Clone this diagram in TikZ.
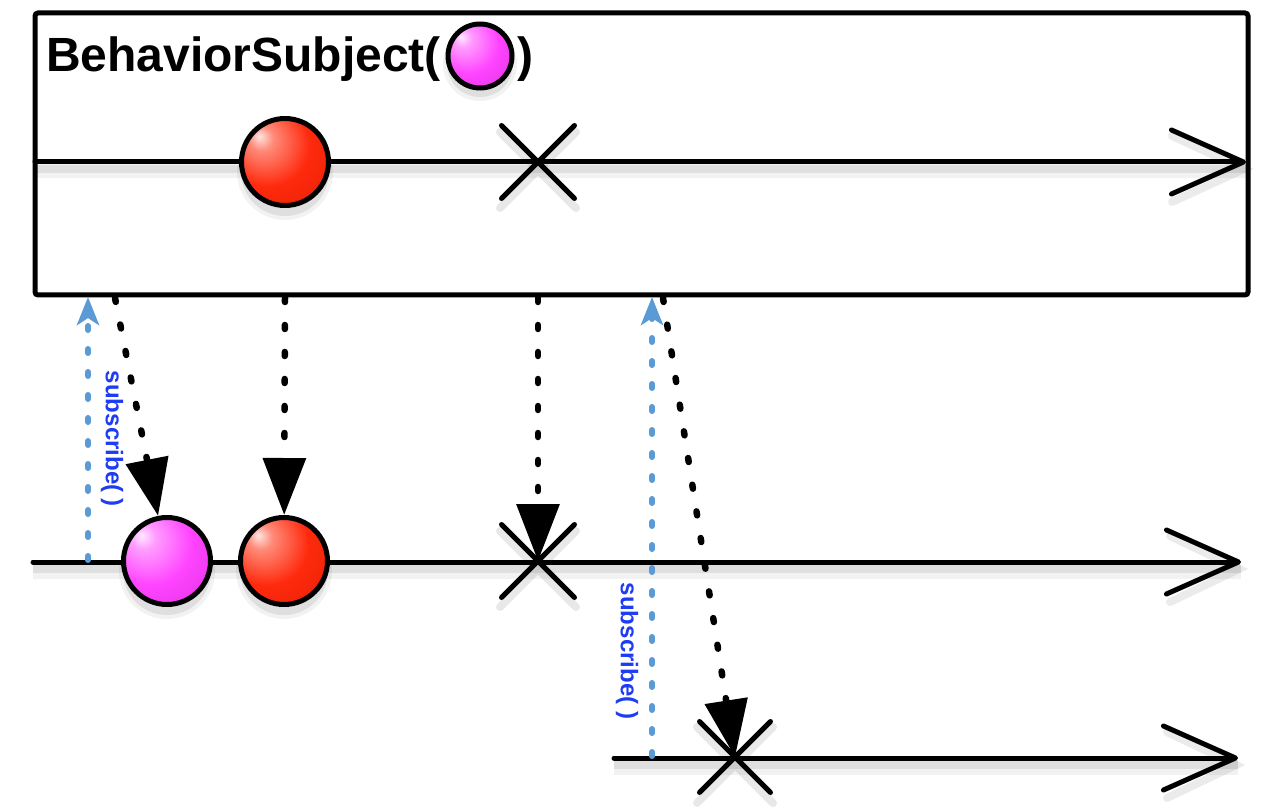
\documentclass[tikz,border=0pt]{standalone}
\usepackage{fontspec}
\setmainfont{Liberation Sans}
\usetikzlibrary{arrows.meta,shapes.misc}
\definecolor{rbA}{HTML}{FFE6E2}
\definecolor{rbB}{HTML}{FF8A78}
\definecolor{rbC}{HTML}{FF2A0E}
\definecolor{rbD}{HTML}{E01E00}
\definecolor{rbE}{HTML}{7A0E00}
\definecolor{pkA}{HTML}{FFEAFF}
\definecolor{pkB}{HTML}{FF9CFF}
\definecolor{pkC}{HTML}{FF44FF}
\definecolor{pkD}{HTML}{DC2EDC}
\definecolor{pkE}{HTML}{7E187E}
\definecolor{subblue}{HTML}{5B9BD5}
\definecolor{labelblue}{HTML}{1E3CF2}
\pgfdeclareradialshading{redball}{\pgfpoint{-15bp}{15bp}}{color(0bp)=(rbA); color(7bp)=(rbB); color(24bp)=(rbC); color(48bp)=(rbD); color(72bp)=(rbE)}
\pgfdeclareradialshading{pinkball}{\pgfpoint{-15bp}{15bp}}{color(0bp)=(pkA); color(7bp)=(pkB); color(24bp)=(pkC); color(48bp)=(pkD); color(72bp)=(pkE)}
\begin{document}
\begin{tikzpicture}[x=1pt,y=-1pt,
  tline/.style={line width=5pt,line cap=round,-{Straight Barb[length=72pt,width=64pt,round]}},
  ball/.style={circle,draw,line width=5pt,minimum size=87pt,inner sep=0pt},
  xmark/.style={cross out,draw,line width=5pt,minimum size=68pt,inner sep=0pt,line cap=round},
  emit/.style={line width=6.5pt,line cap=round,dash pattern=on 4pt off 23pt,-{Triangle[length=57pt,width=42pt]}},
  subarrow/.style={draw=subblue,line width=6pt,line cap=round,dash pattern=on 4pt off 19pt,-{Stealth[length=28pt,width=22pt,inset=7pt]}},
  sublabel/.style={text=labelblue,font=\fontsize{24}{24}\selectfont\bfseries,rotate=-90,inner sep=0pt},
  titlefont/.style={font=\fontsize{48}{48}\selectfont\bfseries,inner sep=0pt,anchor=base west},
  shadowA/.style={draw=black,draw opacity=0.05,line width=15pt},
  shadowB/.style={draw=black,draw opacity=0.08,line width=8pt},
  ballshadow/.style={circle,fill=black,inner sep=0pt},
]
\useasboundingbox (0,0) rectangle (1280,810);
\fill[white] (0,0) rectangle (1280,810);

% coordinates
\coordinate (t1s) at (35,162);  \coordinate (t1e) at (1246,162);
\coordinate (t2s) at (33,562);  \coordinate (t2e) at (1241,562);
\coordinate (t3s) at (614,758); \coordinate (t3e) at (1238,758);
\coordinate (e1) at (115,298);
\coordinate (e2) at (285,298);
\coordinate (e3) at (538,298);
\coordinate (e4) at (663,298);
\coordinate (s1b) at (88,560);  \coordinate (s1t) at (88,297);
\coordinate (s2b) at (652,756); \coordinate (s2t) at (652,297);

% subject box
\draw[line width=5pt,rounded corners=3pt] (35,13) rectangle (1248,295);

% shadows of timelines
\draw[shadowA] ([yshift=-9pt]t1s) -- ([yshift=-9pt]t1e);
\draw[shadowB] ([yshift=-7pt]t1s) -- ([yshift=-7pt]t1e);
\draw[shadowA] ([yshift=-9pt]t2s) -- ([yshift=-9pt]t2e);
\draw[shadowB] ([yshift=-7pt]t2s) -- ([yshift=-7pt]t2e);
\draw[shadowA] ([yshift=-9pt]t3s) -- ([yshift=-9pt]t3e);
\draw[shadowB] ([yshift=-7pt]t3s) -- ([yshift=-7pt]t3e);
\draw[shadowB,line width=8pt,line cap=round] (1172,136) -- (1244,169) -- (1172,202);
\draw[shadowB,line width=8pt,line cap=round] (1170,536) -- (1239,569) -- (1170,602);
\draw[shadowB,line width=8pt,line cap=round] (1167,732) -- (1236,765) -- (1167,798);

% ball shadows
\foreach \cx/\cy/\r in {285/172/44, 167/571/44, 284/571/44, 480/64/33}{
  \node[ballshadow,opacity=0.05,minimum size=2*\r*1pt+8pt] at (\cx,\cy) {};
  \node[ballshadow,opacity=0.08,minimum size=2*\r*1pt] at (\cx,\cy) {};
}
% cross shadows
\foreach \cx/\cy in {538/170, 538/569, 735/765}{
  \node[xmark,draw=black,draw opacity=0.09,line width=8pt] at (\cx,\cy) {};
}

% timelines
\draw[tline] (t1s) -- (t1e);
\draw[tline] (t2s) -- (t2e);
\draw[tline] (t3s) -- (t3e);

% title
\node[titlefont] (title) at (46,72) {BehaviorSubject(};
\node[ball,minimum size=64pt,shading=pinkball] (p0) at (480,56) {};
\node[titlefont] (cparen) at (517,72) {)};

% marbles
\node[ball,shading=redball] (r1) at (285,162) {};
\node[xmark] (x1) at (538,162) {};
\node[ball,shading=pinkball] (p2) at (167,561) {};
\node[ball,shading=redball] (r2) at (284,561) {};
\node[xmark] (x2) at (538,561) {};
\node[xmark,minimum size=66pt] (x3) at (735,757) {};

% emissions
\draw[emit] (e1) -- (p2);
\draw[emit] (e2) -- (r2);
\draw[emit] (e3) -- (x2.center);
\draw[emit] (e4) -- (x3.center);

% subscriptions
\draw[subarrow] (s1b) -- (s1t);
\draw[subarrow] (s2b) -- (s2t);
\node[sublabel] (l1) at (112,439) {subscribe( )};
\node[sublabel] (l2) at (627,651) {subscribe( )};
\end{tikzpicture}
\end{document}
